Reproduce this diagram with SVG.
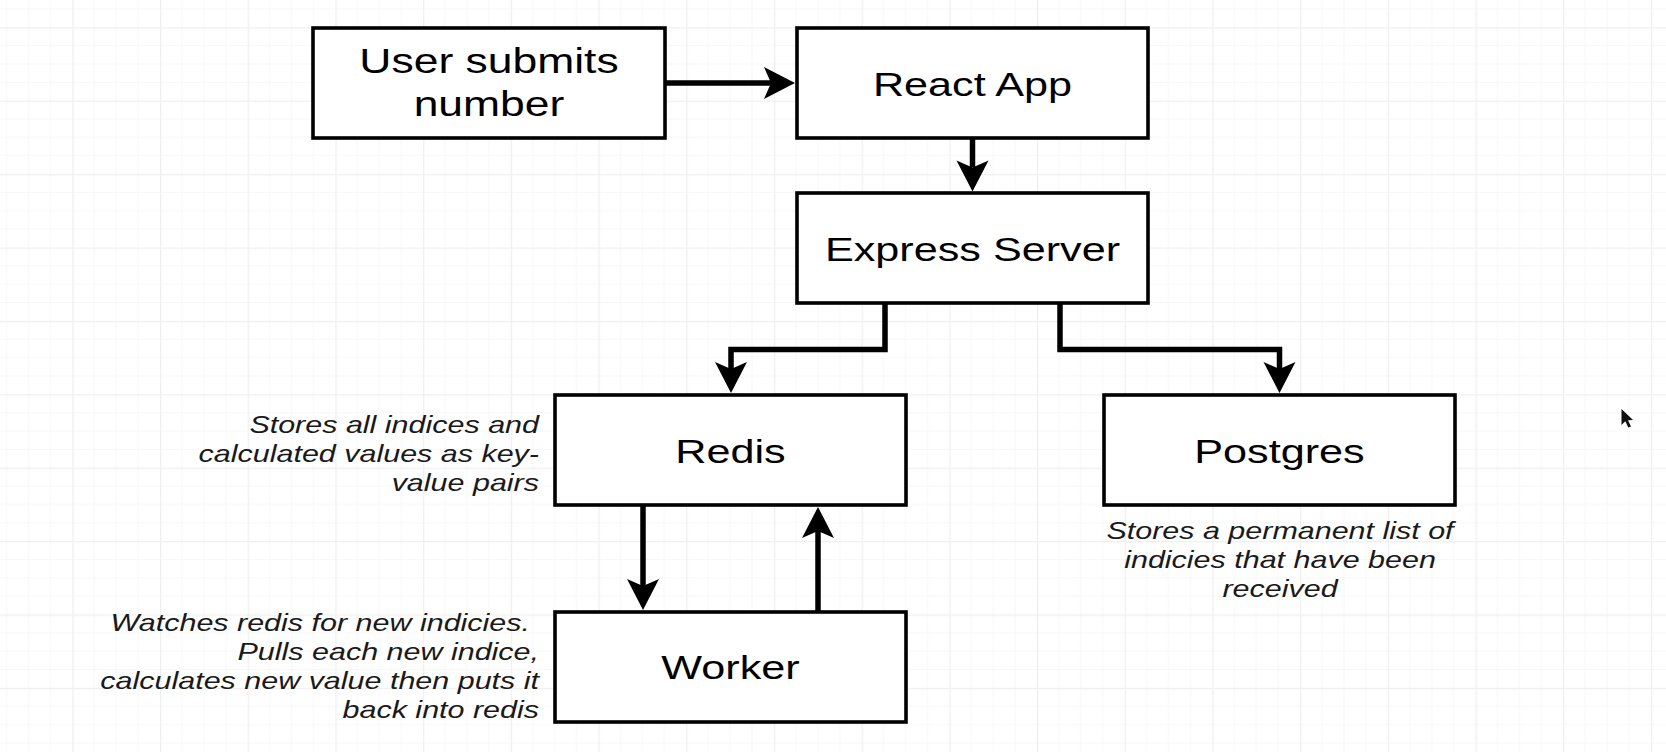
<svg xmlns="http://www.w3.org/2000/svg" width="1666" height="752" viewBox="0 0 1666 752">
  <defs>
    <pattern id="grid" patternUnits="userSpaceOnUse" x="72.3" y="27.3" width="87.7" height="73.4">
      <path d="M21.9,0V73.4M43.85,0V73.4M65.8,0V73.4M0,18.35H87.7M0,36.7H87.7M0,55.05H87.7" stroke="#f7f7f7" stroke-width="1" fill="none"/>
      <path d="M0.5,0V73.4M0,0.5H87.7" stroke="#efefef" stroke-width="1.5" fill="none"/>
    </pattern>
    <marker id="arrow" markerUnits="userSpaceOnUse" viewBox="-8 -17 33 34" refX="0" refY="0" markerWidth="33" markerHeight="34" orient="auto">
      <path d="M24,0 L-7,-16 L0,0 L-7,16 Z" fill="#000"/>
    </marker>
    <style>
      .box { fill: #ffffff; stroke: #000000; stroke-width: 3.6; }
      .label { font-family: "Liberation Sans", Arial, Helvetica, sans-serif; font-size: 34px; fill: #000000; text-anchor: middle; }
      .note { font-family: "Liberation Sans", Arial, Helvetica, sans-serif; font-size: 24px; font-style: italic; fill: #1a1a1a; }
      .edge { fill: none; stroke: #000000; stroke-width: 5.5; stroke-linejoin: miter; marker-end: url(#arrow); }
    </style>
  </defs>

  <rect x="0" y="0" width="1666" height="752" fill="#ffffff"/>
  <rect x="0" y="0" width="1666" height="752" fill="url(#grid)"/>

  <g id="connectors">
    <path class="edge" d="M665,83 H771"/>
    <path class="edge" d="M972.5,138 V167.5"/>
    <path class="edge" d="M885,303 V349.5 H731 V369"/>
    <path class="edge" d="M1060,303 V349.5 H1279.5 V369"/>
    <path class="edge" d="M643,505 V586"/>
    <path class="edge" d="M818,612 V531"/>
  </g>

  <g id="node-user">
    <rect class="box" x="313" y="28" width="352" height="110"/>
    <text class="label" style="font-size:35px" transform="translate(489,73) scale(1.27,1)">User submits</text>
    <text class="label" style="font-size:35px" transform="translate(489,116) scale(1.27,1)">number</text>
  </g>

  <g id="node-react">
    <rect class="box" x="797" y="28" width="351" height="110"/>
    <text class="label" transform="translate(972.5,95.5) scale(1.27,1)">React App</text>
  </g>

  <g id="node-express">
    <rect class="box" x="797" y="193" width="351" height="110"/>
    <text class="label" transform="translate(972.5,260.5) scale(1.27,1)">Express Server</text>
  </g>

  <g id="node-redis">
    <rect class="box" x="555" y="395" width="351" height="110"/>
    <text class="label" transform="translate(730.5,462.5) scale(1.27,1)">Redis</text>
  </g>

  <g id="node-postgres">
    <rect class="box" x="1104" y="395" width="351" height="110"/>
    <text class="label" transform="translate(1279.5,462.5) scale(1.27,1)">Postgres</text>
  </g>

  <g id="node-worker">
    <rect class="box" x="555" y="612" width="351" height="110"/>
    <text class="label" transform="translate(730.5,679) scale(1.27,1)">Worker</text>
  </g>

  <g id="note-redis" class="note" text-anchor="end">
    <text transform="translate(539,432.5) scale(1.27,1)">Stores all indices and</text>
    <text transform="translate(539,461.5) scale(1.27,1)">calculated values as key-</text>
    <text transform="translate(539,490.5) scale(1.27,1)">value pairs</text>
  </g>

  <g id="note-worker" class="note" text-anchor="end">
    <text transform="translate(530,630.5) scale(1.27,1)">Watches redis for new indicies.</text>
    <text transform="translate(539,659.8) scale(1.27,1)">Pulls each new indice,</text>
    <text transform="translate(539,689) scale(1.27,1)">calculates new value then puts it</text>
    <text transform="translate(539,718.2) scale(1.27,1)">back into redis</text>
  </g>

  <g id="note-postgres" class="note" text-anchor="middle">
    <text transform="translate(1280,539) scale(1.27,1)">Stores a permanent list of</text>
    <text transform="translate(1280,568) scale(1.27,1)">indicies that have been</text>
    <text transform="translate(1280,596.5) scale(1.27,1)">received</text>
  </g>

  <path id="cursor" d="M1621.5,409 V425 L1625.3,421.3 L1628.3,427.6 L1631,426.4 L1628,420.2 L1633,420 Z" fill="#111111"/>
</svg>
